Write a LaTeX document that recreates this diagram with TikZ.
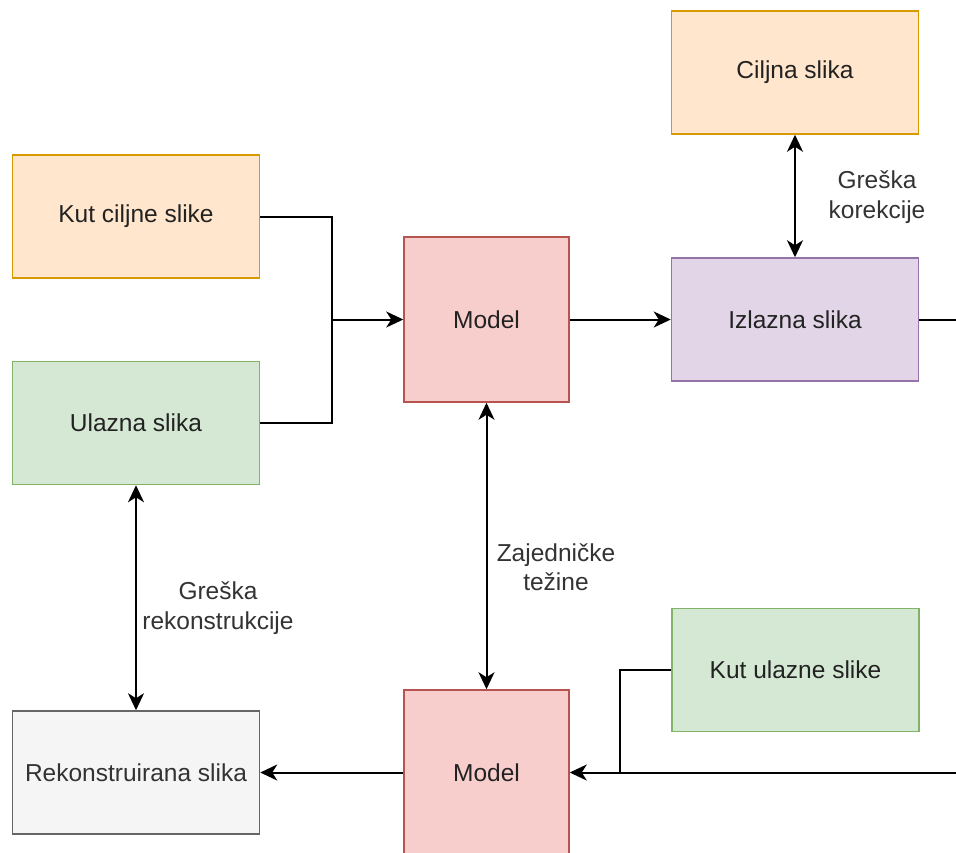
\documentclass[tikz,border=0pt]{standalone}
\usepackage{fontspec}
\setmainfont{Liberation Sans}
\usetikzlibrary{arrows.meta}

\definecolor{orangefill}{HTML}{FFE6CC}
\definecolor{orangeline}{HTML}{D79B00}
\definecolor{greenfill}{HTML}{D5E8D4}
\definecolor{greenline}{HTML}{82B366}
\definecolor{redfill}{HTML}{F8CECC}
\definecolor{redline}{HTML}{B85450}
\definecolor{purplefill}{HTML}{E1D5E7}
\definecolor{purpleline}{HTML}{9673A6}
\definecolor{greyfill}{HTML}{F5F5F5}
\definecolor{greyline}{HTML}{666666}
\definecolor{textdark}{HTML}{222222}
\definecolor{textgrey}{HTML}{333333}

\tikzset{
	box/.style={draw,line width=1.5pt,inner sep=0,minimum width=247pt,minimum height=123pt,text=textdark},
	orangebox/.style={box,fill=orangefill,draw=orangeline},
	greenbox/.style={box,fill=greenfill,draw=greenline},
	redbox/.style={box,fill=redfill,draw=redline,minimum width=165pt,minimum height=165pt},
	purplebox/.style={box,fill=purplefill,draw=purpleline},
	greybox/.style={box,fill=greyfill,draw=greyline,text=textgrey},
	link/.style={line width=2pt,line join=miter},
	linkto/.style={link,-{Stealth[length=17pt,width=16pt,inset=5pt]}},
	linkboth/.style={link,{Stealth[length=17pt,width=16pt,inset=5pt]}-{Stealth[length=17pt,width=16pt,inset=5pt]}},
	edgelabel/.style={align=center,text=textgrey,inner sep=0}
}

\begin{document}
\begin{tikzpicture}[x=1pt,y=-1pt,every node/.style={font=\fontsize{24.5}{29.5}\selectfont}]
	\useasboundingbox (0,0) rectangle (956,852);
	\clip (0,0) rectangle (956,852);
	% boxes
	\node[orangebox] (kutcilj) at (136,216.5) {Kut ciljne slike};
	\node[greenbox] (ulaz) at (136,423) {Ulazna slika};
	\node[redbox] (model1) at (486.5,319.5) {Model};
	\node[purplebox] (izlaz) at (795,319.5) {Izlazna slika};
	\node[orangebox] (cilj) at (795,72.5) {Ciljna slika};
	\node[redbox] (model2) at (486.5,772.5) {Model};
	\node[greybox] (rekon) at (136,772.5) {Rekonstruirana slika};
	\node[greenbox] (kutulaz) at (795.5,670) {Kut ulazne slike};
	% junctions and free ends
	\coordinate (join1) at (332,319.5);
	\coordinate (join2) at (620,772.5);
	\coordinate (out1) at (960,319.5);
	\coordinate (in2) at (960,772.5);
	% connectors
	\draw[link] (kutcilj.east) -| (join1);
	\draw[link] (ulaz.east) -| (join1);
	\draw[linkto] (join1) -- (model1.west);
	\draw[linkto] (model1.east) -- (izlaz.west);
	\draw[link] (izlaz.east) -- (out1);
	\draw[linkboth] (cilj.south) -- (izlaz.north);
	\draw[linkboth] (model1.south) -- (model2.north);
	\draw[linkboth] (ulaz.south) -- (rekon.north);
	\draw[linkto] (in2) -- (model2.east);
	\draw[link] (kutulaz.west) -| (join2);
	\draw[linkto] (model2.west) -- (rekon.east);
	% labels
	\node[edgelabel] (lkor) at (877,197) {Greška\\korekcije};
	\node[edgelabel] (lzaj) at (556,567) {Zajedničke\\težine};
	\node[edgelabel] (lrek) at (218,608) {Greška\\rekonstrukcije};
\end{tikzpicture}
\end{document}
